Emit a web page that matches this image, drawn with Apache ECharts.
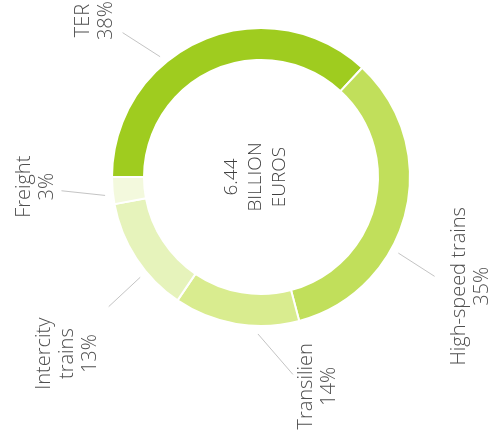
<!DOCTYPE html>
<html>
<head>
<meta charset="utf-8">
<script src="https://cdn.jsdelivr.net/npm/echarts@6/dist/echarts.min.js"></script>
<style>
html,body{margin:0;padding:0;background:#fff;}
#c{width:493px;height:440px;}
</style>
</head>
<body>
<div id="c"></div>
<script>
// ---- data ----
const categories = ['TER', 'High-speed trains', 'Transilien', 'Intercity trains', 'Freight'];
const shares = [38, 35, 14, 13, 3];
const centerLines = ['6.44', 'BILLION', 'EUROS'];

// ---- styles ----
const colors = ['#9fcc1f', '#c1df5b', '#d9ec8f', '#e6f3bb', '#f3f9dd'];
// leader-line angle tweaks relative to slice middle (deg): [inner end, outer end]
const lineTurn = [[16.4, 20.2], [-15.0, -15.8], [8.5, 18.8], [6.5, 7.2], [1.5, -1.3]];
// label centre offset from the outer end of its leader line (px)
const labelOffset = [[-28, -12], [36, 10], [25, 12], [-41, 47], [-26, -4]];
const CX = 261, CY = 177, R_IN = 117, R_OUT = 149;
const LINE_R = [157, 200];
const FONT = '"Open Sans", Lato, sans-serif';

const total = shares.reduce((a, b) => a + b, 0);
let acc = 0;
const midAngles = shares.map(v => { const a = 180 - (acc + v / 2) / total * 360; acc += v; return a; });

function polar(angleDeg, r) {
  const a = angleDeg * Math.PI / 180;
  return [CX + Math.cos(a) * r, CY - Math.sin(a) * r];
}

const chart = echarts.init(document.getElementById('c'), null, { renderer: 'canvas' });
chart.setOption({
  animation: false,
  backgroundColor: '#fff',
  color: colors,
  graphic: [{
    type: 'text',
    x: CX - 5, y: CY,
    rotation: Math.PI / 2,
    style: {
      text: centerLines.join('\n'),
      font: '300 19px "Open Sans", Lato, sans-serif',
      fill: '#3f3f3f',
      align: 'center',
      verticalAlign: 'middle',
      lineHeight: 24
    }
  }],
  series: [{
    type: 'pie',
    center: [CX, CY],
    radius: [R_IN, R_OUT],
    startAngle: 180,
    clockwise: true,
    silent: true,
    itemStyle: { borderColor: '#fff', borderWidth: 2 },
    label: {
      show: true,
      position: 'outside',
      rotate: 90,
      fontFamily: FONT,
      fontWeight: 300,
      fontSize: 20,
      color: '#4f4f4f',
      lineHeight: 23,
      align: 'center',
      formatter: p => (p.name === 'Intercity trains' ? 'Intercity\ntrains' : p.name) + '\n' + p.value + '%'
    },
    labelLine: { show: true, length: 10, length2: 10, lineStyle: { color: '#c4c4c4', width: 1 } },
    labelLayout: function (p) {
      const i = p.dataIndex;
      const p1 = polar(midAngles[i] + lineTurn[i][0], LINE_R[0]);
      const p2 = polar(midAngles[i] + lineTurn[i][1], LINE_R[1]);
      return {
        x: p2[0] + labelOffset[i][0],
        y: p2[1] + labelOffset[i][1],
        align: 'center',
        verticalAlign: 'middle',
        labelLinePoints: [p1, p2, p2]
      };
    },
    data: categories.map((n, i) => ({ name: n, value: shares[i] }))
  }]
});
</script>
</body>
</html>
